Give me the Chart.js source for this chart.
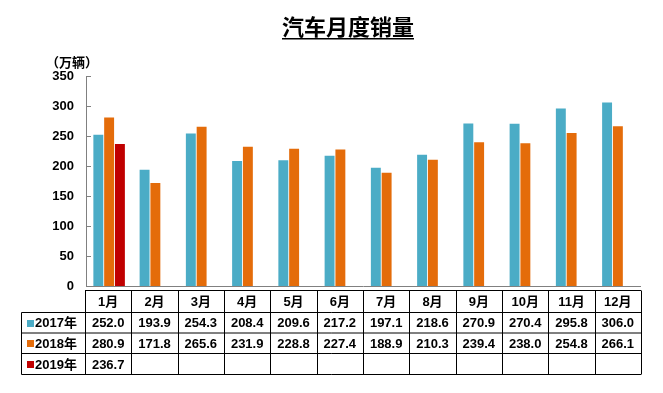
<!DOCTYPE html>
<html>
<head>
<meta charset="utf-8">
<script src="https://cdn.jsdelivr.net/npm/chart.js@4.4.1/dist/chart.umd.min.js"></script>
<style>
  html, body { margin: 0; padding: 0; background: #fff; }
  canvas { display: block; }
</style>
</head>
<body>
<canvas id="chart" width="663" height="393"></canvas>
<script>
const months = ["1月", "2月", "3月", "4月", "5月", "6月", "7月", "8月", "9月", "10月", "11月", "12月"];
const sales2017 = [252.0, 193.9, 254.3, 208.4, 209.6, 217.2, 197.1, 218.6, 270.9, 270.4, 295.8, 306.0];
const sales2018 = [280.9, 171.8, 265.6, 231.9, 228.8, 227.4, 188.9, 210.3, 239.4, 238.0, 254.8, 266.1];
const sales2019 = [236.7, null, null, null, null, null, null, null, null, null, null, null];
const seriesNames = ["2017年", "2018年", "2019年"];
const seriesColors = ["#4BACC6", "#E46C0A", "#C00000"];
const yMax = 350;
const yStep = 50;

const FONT = '"Liberation Sans", Arial, "Noto Sans CJK SC", sans-serif';

// title, unit label, axes and the data table under the bars
const tablePlugin = {
  id: "tablePlugin",
  afterDraw(chart) {
    const ctx = chart.ctx;
    const area = chart.chartArea;
    const x = chart.scales.x;
    const y = chart.scales.y;
    ctx.save();

    // title
    ctx.fillStyle = "#000";
    ctx.font = 'bold 22px "Noto Sans CJK SC", sans-serif';
    ctx.textAlign = "center";
    ctx.textBaseline = "alphabetic";
    const title = "汽车月度销量";
    const tw = ctx.measureText(title).width;
    ctx.fillText(title, 348, 35);
    ctx.fillRect(348 - tw / 2, 38, tw, 1.5);

    // unit
    ctx.font = 'bold 13px "Noto Sans CJK SC", sans-serif';
    ctx.textAlign = "left";
    ctx.textBaseline = "middle";
    ctx.fillText("（万辆）", 46, 62);

    // axes
    ctx.strokeStyle = "#808080";
    ctx.lineWidth = 1;
    ctx.beginPath();
    ctx.moveTo(area.left + 0.5, area.top);
    ctx.lineTo(area.left + 0.5, area.bottom + 1);
    ctx.moveTo(area.left, area.bottom + 0.5);
    ctx.lineTo(area.right, area.bottom + 0.5);
    y.ticks.forEach(t => {
      const py = Math.round(y.getPixelForValue(t.value)) + 0.5;
      ctx.moveTo(area.left, py);
      ctx.lineTo(area.left + 5, py);
    });
    ctx.stroke();

    // table
    const colW = (area.right - area.left) / months.length;
    const tLeft = area.left - 1;
    const legLeft = 21.5;
    const rows = [290.5, 312.5, 333, 353.5, 374.5];
    ctx.strokeStyle = "#000";
    ctx.beginPath();
    // horizontal lines
    ctx.moveTo(tLeft, rows[0]);
    ctx.lineTo(area.right, rows[0]);
    for (let r = 1; r < rows.length; r++) {
      ctx.moveTo(legLeft, rows[r]);
      ctx.lineTo(area.right, rows[r]);
    }
    // vertical lines
    ctx.moveTo(legLeft, rows[1]);
    ctx.lineTo(legLeft, rows[4]);
    for (let i = 0; i <= months.length; i++) {
      const px = Math.round(tLeft + i * colW * (area.right - tLeft) / (area.right - area.left)) + 0.5;
      ctx.moveTo(px, rows[0]);
      ctx.lineTo(px, rows[4]);
    }
    ctx.stroke();

    ctx.fillStyle = "#000";
    ctx.font = "bold 13px " + FONT;
    ctx.textAlign = "center";
    ctx.textBaseline = "middle";
    const cell = i => tLeft + (i + 0.5) * (area.right - tLeft) / months.length;
    months.forEach((m, i) => ctx.fillText(m, cell(i), (rows[0] + rows[1]) / 2 + 1));

    const series = [sales2017, sales2018, sales2019];
    series.forEach((vals, r) => {
      const cy = (rows[r + 1] + rows[r + 2]) / 2 + 1;
      ctx.fillStyle = seriesColors[r];
      ctx.fillRect(27, Math.round(cy - 4), 7, 7);
      ctx.fillStyle = "#000";
      ctx.textAlign = "left";
      ctx.fillText(seriesNames[r], 35, cy);
      ctx.textAlign = "center";
      vals.forEach((v, i) => {
        if (v !== null) ctx.fillText(v.toFixed(1), cell(i), cy);
      });
    });

    ctx.restore();
  }
};

const config = {
  type: "bar",
  data: {
    labels: months,
    datasets: [
      { label: seriesNames[0], data: sales2017, backgroundColor: seriesColors[0] },
      { label: seriesNames[1], data: sales2018, backgroundColor: seriesColors[1] },
      { label: seriesNames[2], data: sales2019, backgroundColor: seriesColors[2] }
    ]
  },
  options: {
    responsive: false,
    animation: false,
    datasets: {
      bar: { categoryPercentage: 0.7, barPercentage: 0.92 }
    },
    layout: { padding: { top: 76, right: 22, bottom: 107, left: 0 } },
    plugins: {
      legend: { display: false },
      title: { display: false },
      tooltip: { enabled: false }
    },
    scales: {
      x: { display: false },
      y: {
        min: 0,
        max: yMax,
        ticks: {
          stepSize: yStep,
          color: "#000",
          padding: 12,
          font: { family: FONT, size: 13, weight: "bold" }
        },
        grid: { display: false, drawTicks: false },
        border: { display: false },
        afterFit(scale) { scale.width = 86; }
      }
    }
  },
  plugins: [tablePlugin]
};

var myChart = new Chart(document.getElementById("chart"), config);
</script>
</body>
</html>
